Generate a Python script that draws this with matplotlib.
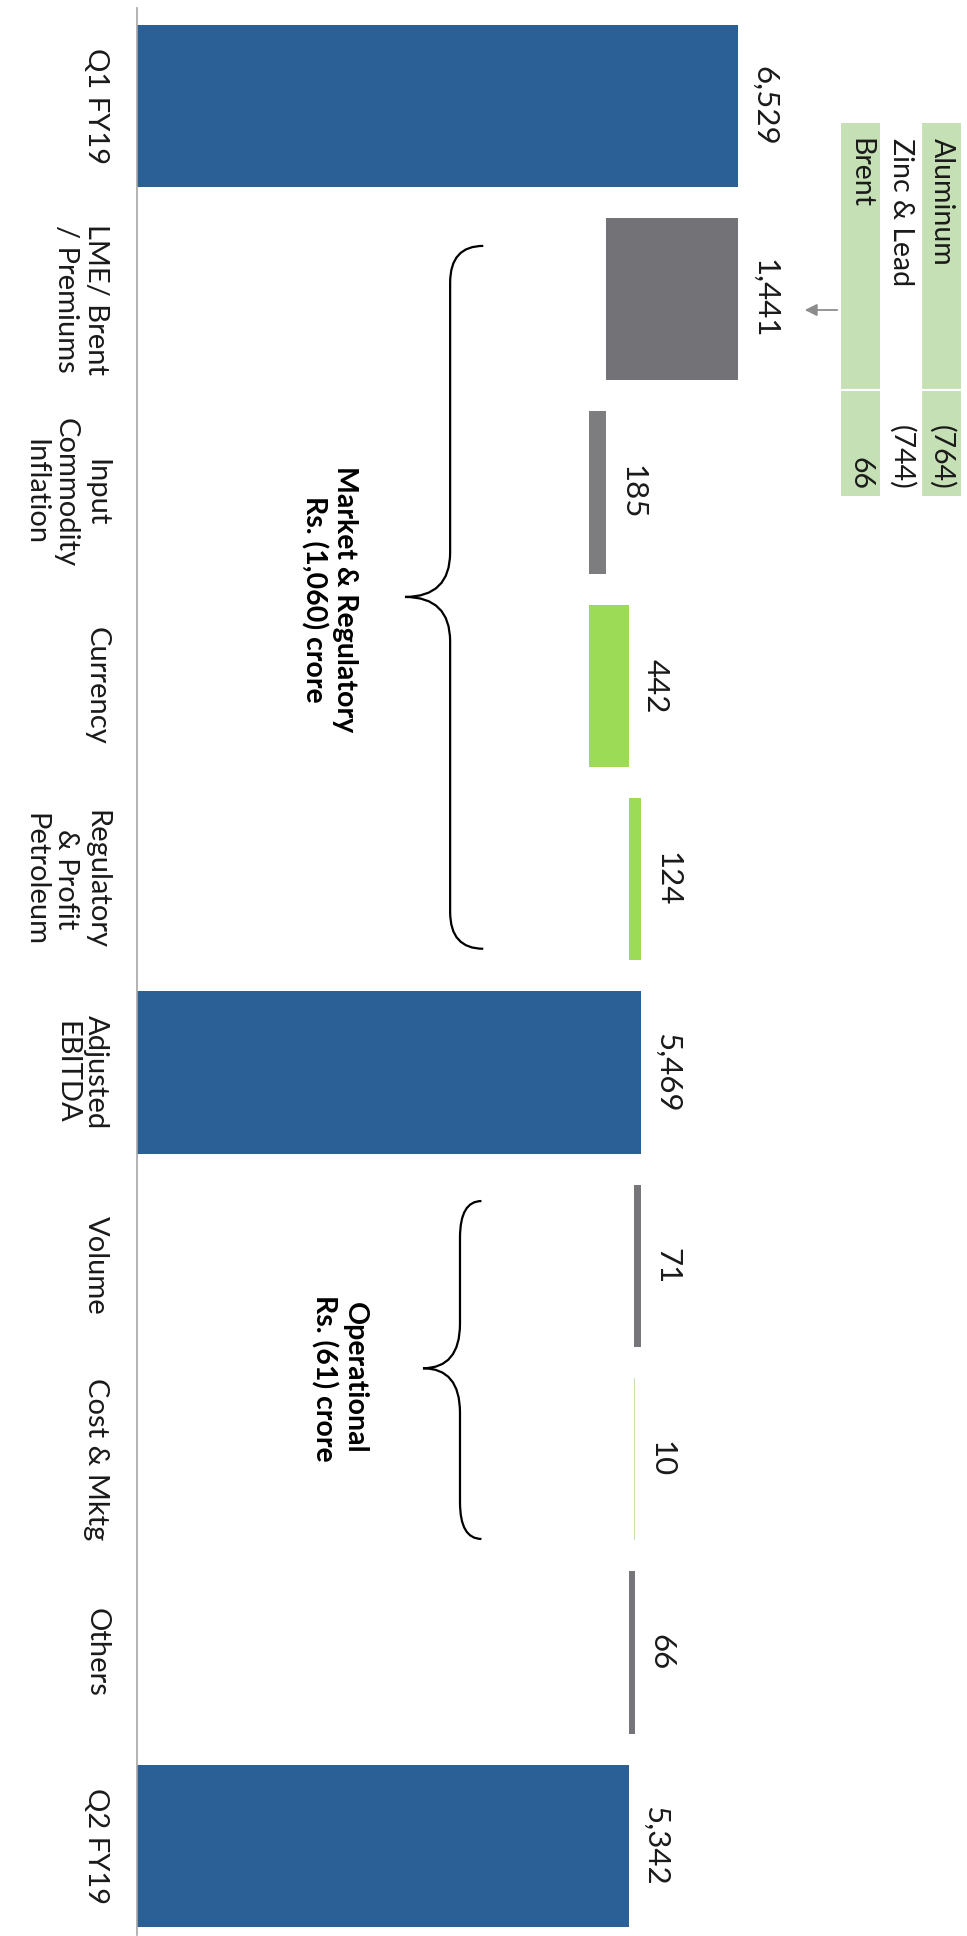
import numpy as np
import matplotlib.pyplot as plt
from matplotlib.patches import Rectangle, PathPatch
from matplotlib.path import Path

plt.rcParams['font.family'] = ['Lato', 'DejaVu Sans']

categories = ['Q1 FY19', 'LME/ Brent\n/ Premiums', 'Input\nCommodity\nInflation', 'Currency',
              'Regulatory\n& Profit\nPetroleum', 'Adjusted\nEBITDA', 'Volume', 'Cost & Mktg',
              'Others', 'Q2 FY19']
values = [6529, -1441, -185, 442, 124, 5469, -71, 10, -66, 5342]
is_total = [True, False, False, False, False, True, False, False, False, True]
value_labels = ['6,529', '1,441', '185', '442', '124', '5,469', '71', '10', '66', '5,342']

table_items = ['Aluminum', 'Zinc & Lead', 'Brent']
table_values = ['(764)', '(744)', '66']

group_labels = ['Market & Regulatory\nRs. (1,060) crore', 'Operational\nRs. (61) crore']

BLUE = '#2a6096'
GREEN = '#9cdb55'
PALE = '#c6e3ab'
colors = [BLUE, '#737377', '#7d7d80', GREEN, GREEN, BLUE, '#76767a', PALE, '#76767a', BLUE]

# waterfall geometry
left, width = [], []
running = 0
for v, tot in zip(values, is_total):
    if tot:
        left.append(0)
        running = v
    else:
        left.append(running)
        running += v
    width.append(v)
left = np.array(left)
width = np.array(width)

fig = plt.figure(figsize=(9.67, 19.36), dpi=100)
ax = fig.add_axes([137 / 967, 0.0, 830 / 967, 1.0])

y = np.arange(len(categories))
ax.barh(y, width, left=left, height=0.84, color=colors)

ax.set_xlim(0, 9012)
ax.set_ylim(9.467, -0.548)
ax.set_yticks(y)
ax.set_yticklabels(categories, rotation=-90, ha='right', va='center',
                   multialignment='center', fontsize=21, color='#1a1a1a')
ax.tick_params(axis='y', length=0, pad=20)
ax.set_xticks([])
for s in ['top', 'right', 'bottom']:
    ax.spines[s].set_visible(False)
ax.spines['left'].set_color('#a6a6a6')
ax.spines['left'].set_linewidth(1.2)
ax.spines['left'].set_bounds(-0.507, 9.462)

# value labels
ends = np.maximum(left, left + width)
for i, lbl in enumerate(value_labels):
    ax.annotate(lbl, xy=(ends[i], i), xytext=(9, 0), textcoords='offset points',
                rotation=-90, ha='left', va='center', fontsize=22.5, color='#1a1a1a')


def brace(ax, y0, y1, ym, x_end, x_body, x_tip, hook=0.19, mid=0.23):
    verts = [(x_end, y0), (x_body, y0), (x_body, y0 + hook),
             (x_body, ym - mid), (x_body, ym), (x_tip, ym),
             (x_body, ym), (x_body, ym + mid),
             (x_body, y1 - hook), (x_body, y1), (x_end, y1)]
    codes = [Path.MOVETO, Path.CURVE3, Path.CURVE3,
             Path.LINETO, Path.CURVE3, Path.CURVE3,
             Path.CURVE3, Path.CURVE3,
             Path.LINETO, Path.CURVE3, Path.CURVE3]
    ax.add_patch(PathPatch(Path(verts, codes), fill=False, lw=1.6, color='black'))


brace(ax, 0.724, 4.36, 2.54, 3760, 3400, 2910)
brace(ax, 5.665, 7.413, 6.53, 3740, 3507, 3105)

ax.text(2400, 2.55, group_labels[0], rotation=-90, ha='right', va='center',
        multialignment='center', fontsize=20.5, fontweight='bold')
ax.text(2510, 6.58, group_labels[1], rotation=-90, ha='right', va='center',
        multialignment='center', fontsize=20.5, fontweight='bold')

# small commodity table (rotated)
ax_t = fig.add_axes([840 / 967, 1 - 497 / 1936, 122 / 967, 375 / 1936])
ax_t.set_xlim(0, 122)
ax_t.set_ylim(375, 0)
ax_t.axis('off')
col_w = 122 / len(table_items)
cell_fill = ['#c5e0b4', 'white', '#c5e0b4']
for j, (name, val) in enumerate(zip(table_items, table_values)):
    x0 = 122 - (j + 1) * col_w
    ax_t.add_patch(Rectangle((x0, 0), col_w, 268, facecolor=cell_fill[j],
                             edgecolor='white', lw=1.5))
    ax_t.add_patch(Rectangle((x0, 268), col_w, 107, facecolor=cell_fill[j],
                             edgecolor='white', lw=1.5))
    ax_t.text(x0 + col_w / 2, 16, name, rotation=-90, ha='center', va='top',
              fontsize=20.5, color='#1a1a1a')
    ax_t.text(x0 + col_w / 2, 368, val, rotation=-90, ha='center', va='bottom',
              fontsize=20.5, color='#1a1a1a')

ax_t.annotate('', xy=(-38, 188), xytext=(0, 188), annotation_clip=False,
              arrowprops=dict(arrowstyle='-|>', color='#8c8c8c', lw=1.3,
                              mutation_scale=18))

fig.savefig('out.png', dpi=100)
